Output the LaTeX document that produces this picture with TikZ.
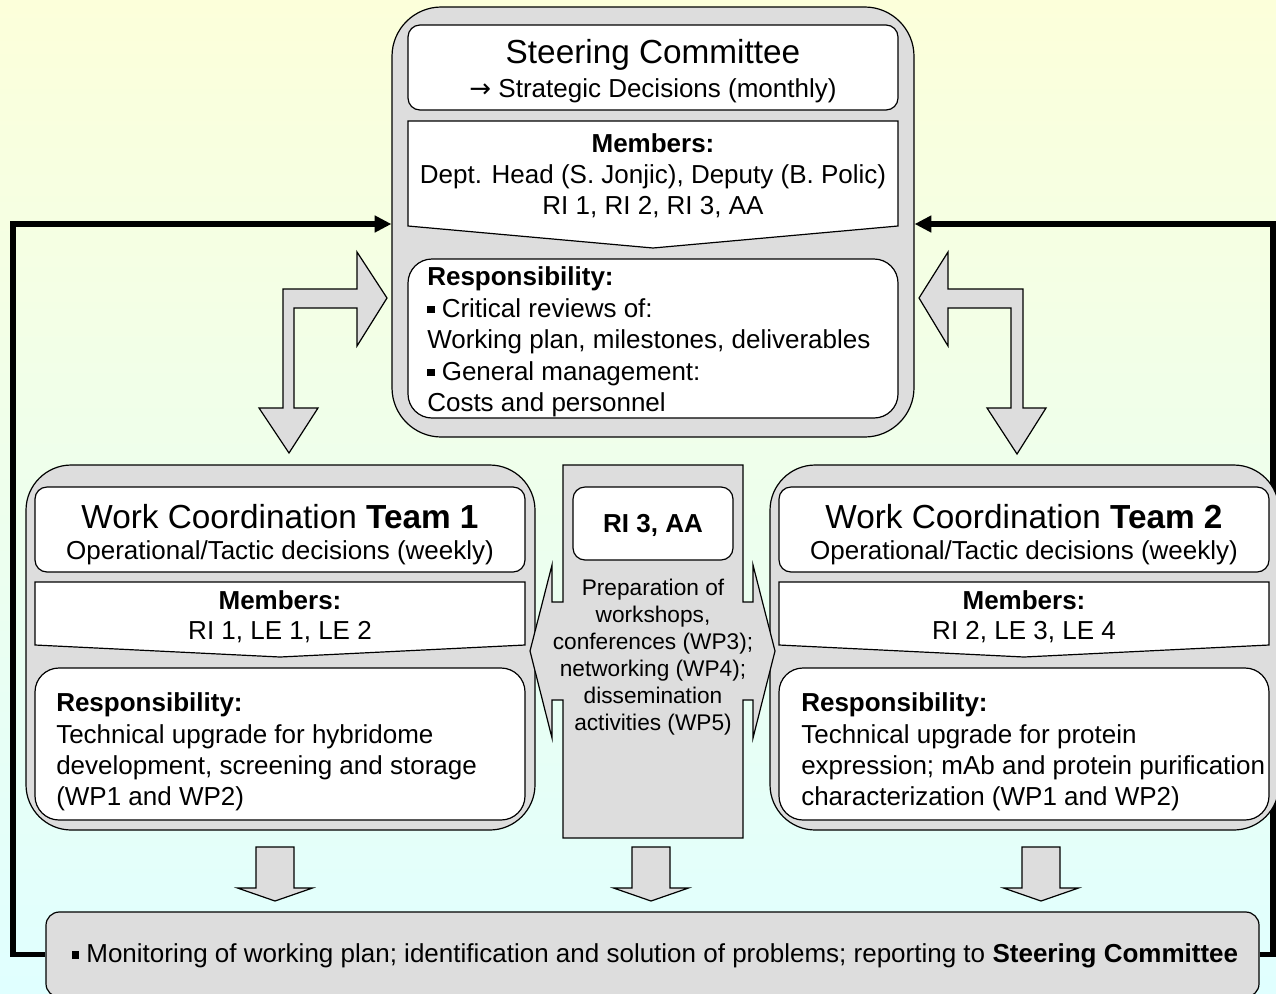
\documentclass[tikz,border=0pt]{standalone}
\usepackage{fontspec}
\setmainfont{Liberation Sans}
\newfontfamily\arrowfont{DejaVu Sans}
\usetikzlibrary{arrows.meta}

\definecolor{bgtop}{RGB}{252,255,218}
\definecolor{bgbottom}{RGB}{224,255,255}
\definecolor{panelgrey}{RGB}{221,221,221}

\newlength\px
\setlength\px{0.75pt}
\newcommand\sqbullet{\rule[0.16em]{0.28em}{0.28em}}
\newcommand\titlesize{\fontsize{25pt}{30pt}\selectfont}
\newcommand\bodysize{\fontsize{19.5pt}{23.4pt}\selectfont}
\newcommand\smallsize{\fontsize{17pt}{20.25pt}\selectfont}

\begin{document}
\begin{tikzpicture}[x=0.75pt,y=-0.75pt]
\tikzset{
  greybox/.style={draw=black, line width=0.9pt, fill=panelgrey, inner sep=0pt},
  whitebox/.style={draw=black, line width=0.9pt, fill=white, inner sep=0pt},
  blockarrow/.style={draw=black, line width=0.9pt, fill=panelgrey, line join=miter},
  feedback/.style={draw=black, line width=3.9pt, -{Triangle[length=12.5pt,width=12pt]}},
  titletext/.style={inner sep=0pt, font=\titlesize},
  bodytext/.style={inner sep=0pt, font=\bodysize, align=center},
  listtext/.style={inner sep=0pt, font=\bodysize, align=left, anchor=west},
  smalltext/.style={inner sep=0pt, font=\smallsize, align=center}
}
\useasboundingbox (0,0) rectangle (1276,993);
\shade[top color=bgtop, bottom color=bgbottom] (0,0) rectangle (1276,993);

% ---------- frames that the feedback lines run behind ----------
\node[greybox, rounded corners=37pt, minimum width=522\px, minimum height=430\px] (sc) at (653,222) {};
\node[greybox, rounded corners=10pt, minimum width=1213\px, minimum height=85\px] (bar) at (652.5,954.5) {};
\node[font=\bodysize, inner sep=0pt] (bartxt) at (655,956)
  {\sqbullet\ Monitoring of working plan; identification and solution of problems; reporting to \textbf{Steering Committee}};

% ---------- feedback lines to the Steering Committee ----------
\coordinate (lturn) at (13,224);
\coordinate (rturn) at (1273,224);
\draw[feedback] (bar.west) -| (lturn) -- (lturn -| sc.west);
\draw[feedback] (bar.east) -| (rturn) -- (rturn -| sc.east);

% ---------- team frames ----------
\node[greybox, rounded corners=34pt, minimum width=509\px, minimum height=365\px] (t1) at (280.5,647.5) {};
\node[greybox, rounded corners=34pt, minimum width=509\px, minimum height=365\px] (t2) at (1024.5,647.5) {};

% ---------- Steering Committee ----------
\node[whitebox, rounded corners=9pt, minimum width=490\px, minimum height=85\px] (sctitle) at (653,67.5) {};
\node[titletext] (sctitletxt) at (653,55) {Steering Committee};
\node[bodytext] (scsub) at (653,91) {{\arrowfont →} Strategic Decisions (monthly)};

\path[whitebox] (408,121) -- (898,121) -- (898,226) -- (653,248) -- (408,226) -- cycle;
\node[bodytext, font=\fontsize{19.5pt}{31\px}\selectfont] (scmembers) at (653,176)
  {\textbf{Members:}\\Dept. Head (S. Jonjic), Deputy (B. Polic)\\RI 1, RI 2, RI 3, AA};

\node[whitebox, rounded corners=18pt, minimum width=490\px, minimum height=159\px] (scresp) at (653,338.5) {};
\node[listtext, font=\fontsize{19.5pt}{31.5\px}\selectfont] (scresptxt) at (427,342)
  {\textbf{Responsibility:}\\\sqbullet\ Critical reviews of:\\Working plan, milestones, deliverables\\\sqbullet\ General management:\\Costs and personnel};

% ---------- elbow arrows between the committee and the teams ----------
\path[blockarrow] (387,298) -- (357,346) -- (357,308) -- (294,308) -- (294,408) -- (318,408)
  -- (289,453) -- (259,408) -- (283,408) -- (283,289) -- (357,289) -- (357,252) -- cycle;
\path[blockarrow] (919,298) -- (948,252) -- (948,289) -- (1023,289) -- (1023,408) -- (1046,408)
  -- (1017,454) -- (987,408) -- (1011,408) -- (1011,308) -- (948,308) -- (948,346) -- cycle;

% ---------- Team 1 ----------
\node[whitebox, rounded corners=9pt, minimum width=490\px, minimum height=85\px] (t1title) at (280,529.5) {};
\node[titletext] (t1titletxt) at (280,517) {Work Coordination \textbf{Team 1}};
\node[bodytext] (t1sub) at (280,553) {Operational/Tactic decisions (weekly)};
\path[whitebox] (35,582) -- (525,582) -- (525,645) -- (280,657) -- (35,645) -- cycle;
\node[bodytext, font=\fontsize{19.5pt}{30\px}\selectfont] (t1members) at (280,617) {\textbf{Members:}\\RI 1, LE 1, LE 2};
\node[whitebox, rounded corners=18pt, minimum width=490\px, minimum height=152\px] (t1resp) at (280,744) {};
\node[listtext, font=\fontsize{19.5pt}{31.3\px}\selectfont] (t1resptxt) at (56,752)
  {\textbf{Responsibility:}\\Technical upgrade for hybridome\\development, screening and storage\\(WP1 and WP2)};

% ---------- Team 2 ----------
\node[whitebox, rounded corners=9pt, minimum width=490\px, minimum height=85\px] (t2title) at (1024,529.5) {};
\node[titletext] (t2titletxt) at (1024,517) {Work Coordination \textbf{Team 2}};
\node[bodytext] (t2sub) at (1024,553) {Operational/Tactic decisions (weekly)};
\path[whitebox] (779,582) -- (1269,582) -- (1269,645) -- (1024,657) -- (779,645) -- cycle;
\node[bodytext, font=\fontsize{19.5pt}{30\px}\selectfont] (t2members) at (1024,617) {\textbf{Members:}\\RI 2, LE 3, LE 4};
\node[whitebox, rounded corners=18pt, minimum width=490\px, minimum height=152\px] (t2resp) at (1024,744) {};
\node[listtext, font=\fontsize{19.5pt}{31.3\px}\selectfont] (t2resptxt) at (801,752)
  {\textbf{Responsibility:}\\Technical upgrade for protein\\expression; mAb and protein purification\\characterization (WP1 and WP2)};

% ---------- central column with double arrow ----------
\path[blockarrow] (563,465) -- (563,602) -- (552,602) -- (552,565) -- (530,651) -- (552,738) -- (552,700)
  -- (563,700) -- (563,838) -- (743,838) -- (743,700) -- (753,700) -- (753,738) -- (775,651)
  -- (753,565) -- (753,602) -- (743,602) -- (743,465) -- cycle;
\node[whitebox, rounded corners=9pt, minimum width=160\px, minimum height=73\px] (ri3) at (653,523.5) {};
\node[font=\bodysize, inner sep=0pt] (ri3txt) at (653,525) {\textbf{RI 3, AA}};
\node[smalltext] (midtxt) at (653,657)
  {Preparation of\\workshops,\\conferences (WP3);\\networking (WP4);\\dissemination\\activities (WP5)};

% ---------- down arrows to the reporting bar ----------
\foreach \cx in {275, 651, 1041} {
  \path[blockarrow] (\cx-19,847) -- (\cx+19,847) -- (\cx+19,888) -- (\cx+37.5,888) -- (\cx,901)
    -- (\cx-37.5,888) -- (\cx-19,888) -- cycle;
}
\end{tikzpicture}
\end{document}
